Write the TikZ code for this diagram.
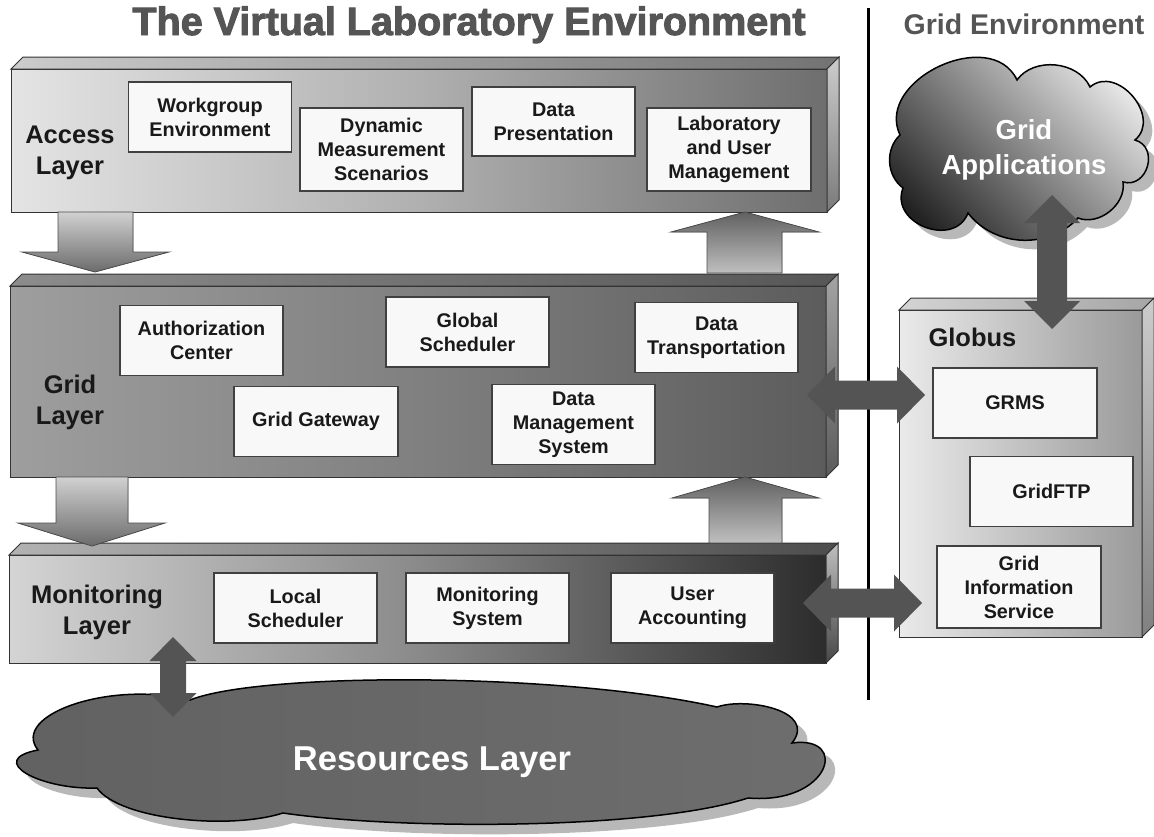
\documentclass[tikz,border=0pt]{standalone}
\usepackage{fontspec}
\setmainfont{Liberation Sans}
\newfontfamily\heavyfont[BoldFeatures={FakeBold=2.5}]{Liberation Sans}
\usetikzlibrary{calc}

\definecolor{titlegrey}{HTML}{555555}
\definecolor{boxfill}{HTML}{F8F8F8}
\definecolor{linkgrey}{HTML}{545454}
\definecolor{shadowgrey}{HTML}{B8B8B8}
% slab shades
\definecolor{accessL}{HTML}{E4E4E4}\definecolor{accessM}{HTML}{B0B0B0}\definecolor{accessR}{HTML}{6E6E6E}
\definecolor{gridL}{HTML}{9E9E9E}\definecolor{gridM}{HTML}{808080}\definecolor{gridR}{HTML}{5C5C5C}
\definecolor{monL}{HTML}{D4D4D4}\definecolor{monM}{HTML}{8A8A8A}\definecolor{monR}{HTML}{2C2C2C}
\definecolor{globL}{HTML}{EAEAEA}\definecolor{globR}{HTML}{9A9A9A}
% cloud shades
\definecolor{resL}{HTML}{616161}\definecolor{resR}{HTML}{6E6E6E}
\definecolor{appLight}{HTML}{F6F6F6}\definecolor{appDark}{HTML}{222222}

\begin{document}
\begin{tikzpicture}[x=1pt, y=1pt,
    slabline/.style={draw=black!80, line width=1pt},
    slab/.style={slabline, rectangle, inner sep=0pt, outer sep=0pt},
    box/.style={draw=black!75, line width=1.2pt, fill=boxfill, inner sep=0pt,
      outer sep=0pt, minimum width=163, minimum height=70, align=center,
      text=black!90, font=\bfseries\fontsize{19.8}{24}\selectfont},
    layerlabel/.style={align=center, text=black!90,
      font=\bfseries\fontsize{25.5}{31}\selectfont},
    downblock/.style={draw=black!70, line width=0.8pt, top color=black!18, bottom color=black!58},
    upblock/.style={draw=black!70, line width=0.8pt, top color=black!62, bottom color=black!25},
    link/.style={fill=linkgrey},
  ]

    % Page frame
    \useasboundingbox (0,0) rectangle (1154,-836);

    % Headings
    \node[anchor=base, text=titlegrey, font=\heavyfont\bfseries\fontsize{39.5}{44}\selectfont]
      (title) at (469,-35) {The Virtual Laboratory Environment};
    \node[anchor=base, text=titlegrey, font=\bfseries\fontsize{28.5}{32}\selectfont]
      (gridenv) at (1024,-34) {Grid Environment};

    % Divider between the two environments
    \coordinate (divtop) at (868,-8);
    \coordinate (divbot) at (868,-700);
    \draw[line width=3pt] (divtop) -- (divbot);

    % Resources cloud: shadow first, then the cloud itself
    \fill[shadowgrey, shift={(10,-10)}] (38,-750)
      .. controls (10,-715) and (110,-680) .. (190,-700)
      .. controls (260,-672) and (560,-672) .. (717,-707)
      .. controls (745,-697) and (818,-710) .. (792,-743)
      .. controls (850,-735) and (830,-805) .. (748,-798)
      .. controls (650,-830) and (400,-830) .. (283,-813)
      .. controls (230,-830) and (120,-820) .. (97,-788)
      .. controls (40,-790) and (-15,-760) .. (38,-750) -- cycle;
    \draw[line width=1.5pt, left color=resL, right color=resR] (38,-750)
      .. controls (10,-715) and (110,-680) .. (190,-700)
      .. controls (260,-672) and (560,-672) .. (717,-707)
      .. controls (745,-697) and (818,-710) .. (792,-743)
      .. controls (850,-735) and (830,-805) .. (748,-798)
      .. controls (650,-830) and (400,-830) .. (283,-813)
      .. controls (230,-830) and (120,-820) .. (97,-788)
      .. controls (40,-790) and (-15,-760) .. (38,-750) -- cycle;
    \node[text=white, font=\bfseries\fontsize{34.5}{40}\selectfont] (reslabel) at (432,-762) {Resources Layer};

    % Grid applications cloud
    \fill[shadowgrey, shift={(9,-9)}] (900,-135) to[bend left=90, looseness=1.2] (1017,-80)
      to[bend left=60] (1090,-87) to[bend left=90, looseness=1.3] (1135,-140)
      to[bend left=90, looseness=1.5] (1123,-182) to[bend left=60] (1078,-218)
      to[bend left=50] (968,-213) to[bend left=90, looseness=1.4] (903,-188)
      to[bend left=50] (900,-135) -- cycle;
    \draw[line width=1.5pt, top color=appLight, bottom color=appDark, shading angle=-45]
      (900,-135) to[bend left=90, looseness=1.2] (1017,-80)
      to[bend left=60] (1090,-87) to[bend left=90, looseness=1.3] (1135,-140)
      to[bend left=90, looseness=1.5] (1123,-182) to[bend left=60] (1078,-218)
      to[bend left=50] (968,-213) to[bend left=90, looseness=1.4] (903,-188)
      to[bend left=50] (900,-135) -- cycle;
    \node[text=white, align=center, font=\bfseries\fontsize{27.5}{35}\selectfont]
      (applabel) at (1024,-150) {Grid\\Applications};

    % Access layer slab (front, top, side)
    \node[slab, minimum width=816, minimum height=143,
      left color=accessL, right color=accessR, middle color=accessM] (access) at (419,-140.5) {};
    \filldraw[slabline, left color=black!20, right color=black!55]
      (access.north west) -- ++(12,12) -- ([shift={(12,12)}]access.north east) -- (access.north east) -- cycle;
    \filldraw[slabline, top color=black!20, bottom color=black!52]
      (access.north east) -- ++(12,12) -- ([shift={(12,12)}]access.south east) -- (access.south east) -- cycle;

    % Grid layer slab
    \node[slab, minimum width=816, minimum height=191,
      left color=gridL, right color=gridR, middle color=gridM] (grid) at (418,-381.5) {};
    \filldraw[slabline, left color=black!45, right color=black!66]
      (grid.north west) -- ++(12,12) -- ([shift={(12,12)}]grid.north east) -- (grid.north east) -- cycle;
    \filldraw[slabline, top color=black!36, bottom color=black!64]
      (grid.north east) -- ++(12,12) -- ([shift={(12,12)}]grid.south east) -- (grid.south east) -- cycle;

    % Monitoring layer slab
    \node[slab, minimum width=817, minimum height=108,
      left color=monL, right color=monR, middle color=monM] (monitor) at (417.5,-609) {};
    \filldraw[slabline, left color=black!30, right color=black!70]
      (monitor.north west) -- ++(12,12) -- ([shift={(12,12)}]monitor.north east) -- (monitor.north east) -- cycle;
    \filldraw[slabline, top color=black!25, bottom color=black!72]
      (monitor.north east) -- ++(12,12) -- ([shift={(12,12)}]monitor.south east) -- (monitor.south east) -- cycle;

    % Globus slab
    \node[slab, minimum width=243, minimum height=327,
      left color=globL, right color=globR] (globus) at (1020.5,-473.5) {};
    \filldraw[slabline, left color=black!17, right color=black!35]
      (globus.north west) -- ++(12,12) -- ([shift={(12,12)}]globus.north east) -- (globus.north east) -- cycle;
    \filldraw[slabline, top color=black!20, bottom color=black!50]
      (globus.north east) -- ++(12,12) -- ([shift={(12,12)}]globus.south east) -- (globus.south east) -- cycle;

    % Layer names
    \node[layerlabel] (accesslabel) at (70,-153) {Access\\Layer};
    \node[layerlabel] (gridlabel) at (70,-402) {Grid\\Layer};
    \node[layerlabel] (monlabel) at (97,-612) {Monitoring\\Layer};
    \node[layerlabel, anchor=base west] (globuslabel) at (925,-346) {Globus};

    % Access layer components
    \node[box] (workgroup) at (210,-117) {Workgroup\\Environment};
    \node[box, minimum height=83] (scenarios) at (381.5,-149.5) {Dynamic\\Measurement\\Scenarios};
    \node[box, minimum height=69] (presentation) at (553.5,-121.5) {Data\\Presentation};
    \node[box, minimum width=164, minimum height=83] (labuser) at (729,-149.5) {Laboratory\\and User\\Management};

    % Grid layer components
    \node[box] (authcenter) at (201.5,-340.5) {Authorization\\Center};
    \node[box] (globalsched) at (467.5,-332) {Global\\Scheduler};
    \node[box] (transport) at (716.5,-337.5) {Data\\Transportation};
    \node[box, minimum width=164] (gateway) at (316,-421.5) {Grid Gateway};
    \node[box, minimum height=80] (datamgmt) at (573.5,-424.5) {Data\\Management\\System};

    % Monitoring layer components
    \node[box] (localsched) at (295.5,-608) {Local\\Scheduler};
    \node[box] (monsys) at (487.5,-608) {Monitoring\\System};
    \node[box] (accounting) at (692.5,-608) {User\\Accounting};

    % Globus components
    \node[box, minimum width=164] (grms) at (1015,-403) {GRMS};
    \node[box] (gridftp) at (1051.5,-491.5) {GridFTP};
    \node[box, minimum width=164, minimum height=82] (gis) at (1019,-587) {Grid\\Information\\Service};

    % Block arrows between the layers
    \coordinate (a2g) at ($(grid.north west)+(85,14)$);
    \filldraw[downblock] (a2g) -- ++(-73,20) -- ++(36,0) -- ++(0,40) -- ++(75,0) -- ++(0,-40) -- ++(36,0) -- cycle;
    \coordinate (g2a) at ($(access.south east)+(-82,0)$);
    \filldraw[upblock] (g2a) -- ++(74,-20) -- ++(-37,0) -- ++(0,-41) -- ++(-75,0) -- ++(0,41) -- ++(-36,0) -- cycle;
    \coordinate (g2m) at ($(monitor.north west)+(83,9)$);
    \filldraw[downblock] (g2m) -- ++(-74,23) -- ++(38,0) -- ++(0,46) -- ++(72,0) -- ++(0,-46) -- ++(37,0) -- cycle;
    \coordinate (m2g) at ($(grid.south east)+(-81,0)$);
    \filldraw[upblock] (m2g) -- ++(74,-21) -- ++(-37,0) -- ++(0,-45) -- ++(-73,0) -- ++(0,45) -- ++(-37,0) -- cycle;

    % Two-way links
    \coordinate (gridport) at (807,-395);
    \coordinate (grmsport) at ($(grms.west)+(-8,8)$);
    \fill[link] (gridport) -- ++(28,28.5) -- ++(0,-14) -- ++(62,0) -- ++(0,14) -- (grmsport)
      -- ++(-28,-28.5) -- ++(0,14) -- ++(-62,0) -- ++(0,-14) -- cycle;

    \coordinate (monport) at (803,-603);
    \coordinate (gisport) at ($(gis.west)+(-15,-16)$);
    \fill[link] (monport) -- ++(28,28.5) -- ++(0,-14) -- ++(63,0) -- ++(0,14) -- (gisport)
      -- ++(-28,-28.5) -- ++(0,14) -- ++(-63,0) -- ++(0,-14) -- cycle;

    \coordinate (appport) at (1052,-195);
    \coordinate (globport) at (1052,-329);
    \fill[link] (appport) -- ++(28,-28) -- ++(-13,0) -- ++(0,-78) -- ++(13,0) -- (globport)
      -- ++(-28,28) -- ++(13,0) -- ++(0,78) -- ++(-13,0) -- cycle;

    \coordinate (lowport) at (173,-637);
    \coordinate (resport) at (173,-717);
    \fill[link] (lowport) -- ++(23.5,-24) -- ++(-10.5,0) -- ++(0,-32) -- ++(10.5,0) -- (resport)
      -- ++(-23.5,24) -- ++(10.5,0) -- ++(0,32) -- ++(-10.5,0) -- cycle;

\end{tikzpicture}
\end{document}
